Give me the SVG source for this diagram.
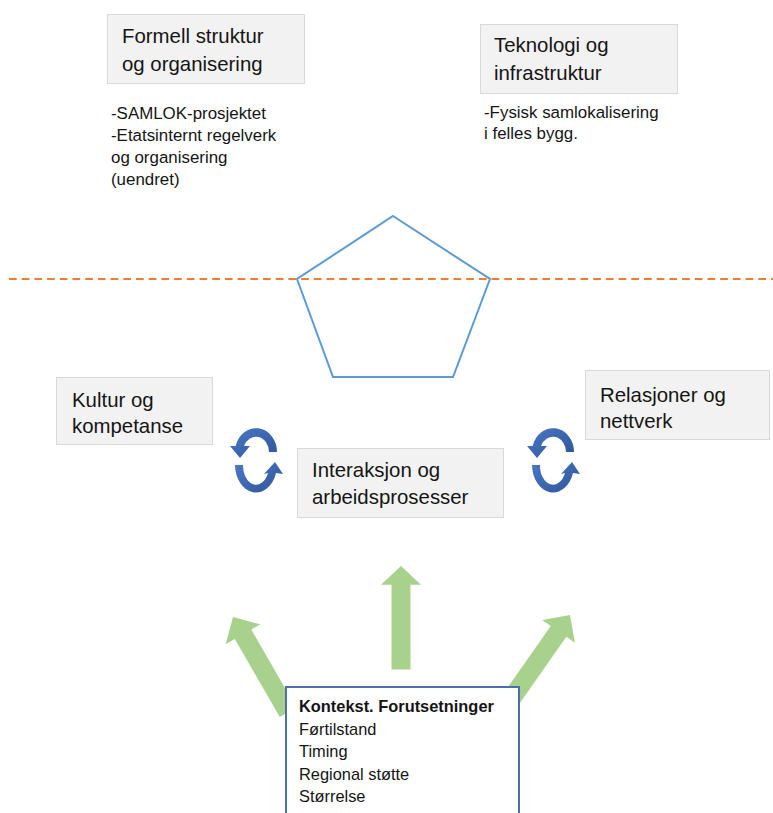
<svg xmlns="http://www.w3.org/2000/svg" width="773" height="813" viewBox="0 0 773 813">
  <defs>
    <style>
      .box { fill: #f2f2f2; stroke: #d9d9d9; stroke-width: 1; }
      .lbl { font-family: "Liberation Sans", Arial, sans-serif; font-size: 20.4px; fill: #151515; }
      .note { font-family: "Liberation Sans", Arial, sans-serif; font-size: 16.9px; fill: #151515; }
      .ctx { font-family: "Liberation Sans", Arial, sans-serif; font-size: 16.4px; fill: #151515; }
      .bold { font-weight: bold; }
      .push { fill: #a9d18e; }
      .cycle { fill: url(#cycleFill); }
    </style>
    <linearGradient id="cycleFill" x1="0" y1="0" x2="1" y2="1">
      <stop offset="0" stop-color="#4a78c8"/>
      <stop offset="1" stop-color="#2f5597"/>
    </linearGradient>
    <!-- block arrow, tip at origin, pointing up -->
    <path id="blockArrow" d="M 0,0 L 20,20 L 9.5,20 L 9.5,110 L -9.5,110 L -9.5,20 L -20,20 Z"/>
    <!-- pair of curved arrows forming a cycle -->
    <g id="cyclePair">
      <path class="cycle" d="M 277,452 A 21,24 0 0 0 235.7,446 L 230,446 L 240,458 L 250,446 L 244,446 A 13,15 0 0 1 269,452 Z"/>
      <path class="cycle" d="M 235,465 A 21,28 0 0 0 276,473 L 283,474 L 275,462 L 264,474 L 268,473 A 13,19 0 0 1 243,465 Z"/>
    </g>
  </defs>

  <!-- divider line -->
  <line x1="9" y1="279" x2="773" y2="279" stroke="#ed7d31" stroke-width="2" stroke-dasharray="7.7 5"/>

  <!-- central pentagon -->
  <polygon points="393,216 490,279 453,377 333,377 297,279" fill="none" stroke="#5b9bd5" stroke-width="2"/>

  <g id="formell">
    <rect class="box" x="107.5" y="14.5" width="197" height="69"/>
    <text class="lbl" x="122" y="43">Formell struktur</text>
    <text class="lbl" x="122" y="71">og organisering</text>
    <text class="note" x="111" y="119">-SAMLOK-prosjektet</text>
    <text class="note" x="111" y="141">-Etatsinternt regelverk</text>
    <text class="note" x="111" y="163">og organisering</text>
    <text class="note" x="111" y="185">(uendret)</text>
  </g>

  <g id="teknologi">
    <rect class="box" x="480.5" y="24.5" width="197" height="69"/>
    <text class="lbl" x="494" y="52">Teknologi og</text>
    <text class="lbl" x="494" y="80">infrastruktur</text>
    <text class="note" x="484" y="118">-Fysisk samlokalisering</text>
    <text class="note" x="484" y="139">i felles bygg.</text>
  </g>

  <g id="kultur">
    <rect class="box" x="56.5" y="377.5" width="156" height="67"/>
    <text class="lbl" x="72" y="407">Kultur og</text>
    <text class="lbl" x="72" y="433">kompetanse</text>
  </g>

  <g id="relasjoner">
    <rect class="box" x="585.5" y="370.5" width="184" height="69"/>
    <text class="lbl" x="600" y="402">Relasjoner og</text>
    <text class="lbl" x="600" y="428">nettverk</text>
  </g>

  <g id="interaksjon">
    <rect class="box" x="297.5" y="448.5" width="206" height="69"/>
    <text class="lbl" x="312" y="477">Interaksjon og</text>
    <text class="lbl" x="312" y="504">arbeidsprosesser</text>
  </g>

  <g id="connectors">
    <!-- cycle arrows -->
    <use href="#cyclePair"/>
    <use href="#cyclePair" transform="translate(297,0)"/>
    <!-- influence arrows from context -->
    <use href="#blockArrow" class="push" transform="translate(401,566) scale(1,0.94)"/>
    <use href="#blockArrow" class="push" transform="translate(233,617) rotate(-30)"/>
    <use href="#blockArrow" class="push" transform="translate(570,615) rotate(35)"/>
  </g>

  <g id="kontekst">
    <rect x="286" y="687" width="233" height="140" fill="#ffffff" stroke="#4e6fae" stroke-width="2"/>
    <text class="ctx bold" x="299" y="712">Kontekst. Forutsetninger</text>
    <text class="ctx" x="299" y="735">Førtilstand</text>
    <text class="ctx" x="299" y="757">Timing</text>
    <text class="ctx" x="299" y="780">Regional støtte</text>
    <text class="ctx" x="299" y="802">Størrelse</text>
  </g>
</svg>
